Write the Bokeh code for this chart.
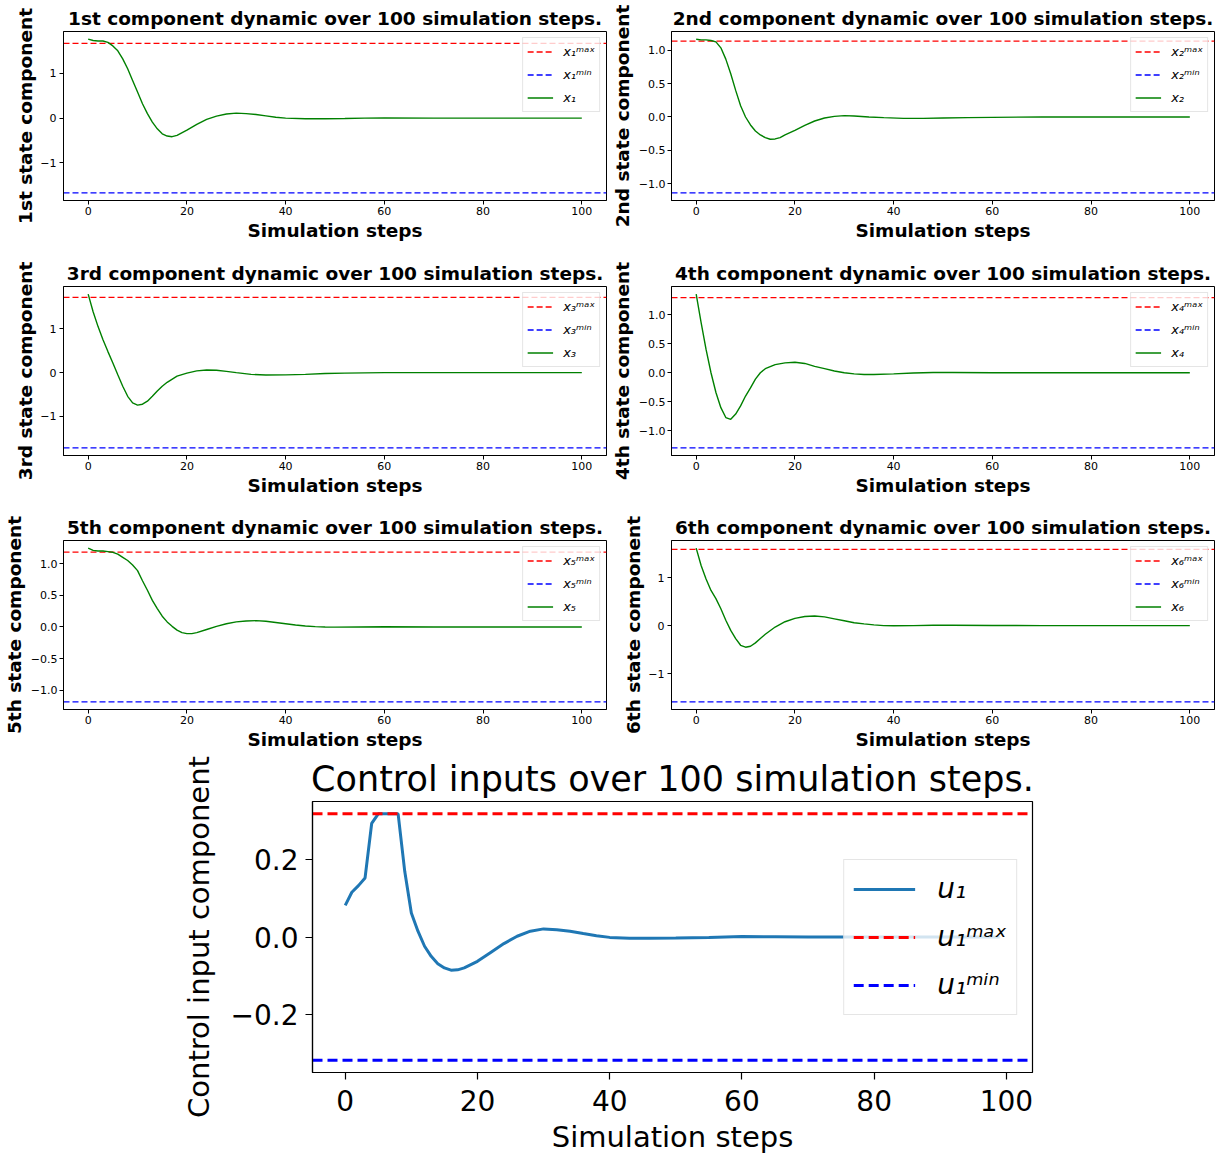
from bokeh.plotting import figure
from bokeh.layouts import column, row
from bokeh.models import Range1d, FixedTicker, Legend, LegendItem
from bokeh.embed import file_html
from bokeh.resources import INLINE

FONT = "DejaVu Sans"

# ---------------- data ----------------
x1_steps = [0, 1, 2, 3, 4, 5, 6, 7, 8, 9, 10, 11, 12, 13, 14, 15, 16, 17, 18,
            20, 22, 24, 26, 28, 30, 32, 34, 36, 38, 40, 44, 48, 52, 56, 60, 70, 80, 90, 100]
x1_vals = [1.76, 1.73, 1.72, 1.72, 1.69, 1.61, 1.50, 1.32, 1.10, 0.84, 0.58, 0.32, 0.10, -0.09,
           -0.24, -0.35, -0.40, -0.415, -0.385,
           -0.27, -0.14, -0.03, 0.045, 0.09, 0.11, 0.10, 0.08, 0.05, 0.02, 0.0,
           -0.015, -0.015, -0.01, 0.0, 0.005, 0.0, 0.0, 0.0, 0.0]

x2_steps = [0, 1, 2, 3, 4, 5, 6, 7, 8, 9, 10, 11, 12, 13, 14, 15, 16, 17, 18,
            20, 22, 24, 26, 28, 30, 32, 35, 38, 42, 46, 50, 55, 60, 70, 80, 90, 100]
x2_vals = [1.17, 1.16, 1.16, 1.15, 1.13, 1.04, 0.87, 0.65, 0.40, 0.17, 0.0, -0.12, -0.21, -0.27,
           -0.31, -0.335, -0.33, -0.31, -0.27,
           -0.20, -0.125, -0.06, -0.015, 0.01, 0.02, 0.015,
           0.0, -0.01, -0.02, -0.02, -0.015, -0.01, -0.005, 0.0, 0.0, 0.0, 0.0]

x3_steps = [0, 1, 2, 3, 4, 5, 6, 7, 8, 9, 10, 11, 12, 13, 14, 15, 16,
            18, 20, 22, 24, 26, 28, 30, 33, 36, 40, 44, 48, 52, 60, 70, 80, 90, 100]
x3_vals = [1.79, 1.39, 1.05, 0.75, 0.48, 0.22, -0.05, -0.31, -0.54, -0.69, -0.74, -0.72, -0.65,
           -0.54, -0.42, -0.31, -0.22,
           -0.08, -0.01, 0.04, 0.06, 0.055, 0.03, 0.0,
           -0.04, -0.055, -0.05, -0.04, -0.02, -0.01, 0.0, 0.0, 0.0, 0.0, 0.0]

x4_steps = [0, 1, 2, 3, 4, 5, 6, 7, 8, 9, 10, 11, 12, 13, 14,
            16, 18, 20, 22, 24, 26, 28, 30, 32, 34, 36, 40, 44, 48, 52, 60, 70, 80, 90, 100]
x4_vals = [1.35, 0.86, 0.40, 0.0, -0.34, -0.60, -0.77, -0.80, -0.71, -0.57, -0.40, -0.26, -0.11,
           0.0, 0.07,
           0.14, 0.17, 0.18, 0.16, 0.11, 0.07, 0.03, 0.0, -0.02, -0.03, -0.03,
           -0.02, -0.005, 0.005, 0.005, 0.0, 0.0, 0.0, 0.0, 0.0]

x5_steps = [0, 1, 2, 3, 4, 5, 6, 7, 8, 9, 10, 11, 12, 13, 14, 15, 16, 17, 18, 19, 20, 21, 22,
            24, 26, 28, 30, 32, 34, 36, 38, 40, 42, 44, 46, 48, 50, 60, 70, 80, 90, 100]
x5_vals = [1.245, 1.21, 1.20, 1.20, 1.19, 1.18, 1.15, 1.10, 1.05, 0.98, 0.89, 0.73, 0.58, 0.42,
           0.29, 0.17, 0.08, 0.01, -0.05, -0.09, -0.105, -0.105, -0.09,
           -0.04, 0.01, 0.05, 0.08, 0.095, 0.10, 0.09, 0.07, 0.05, 0.03, 0.015, 0.005, 0.0, -0.002,
           0.003, 0.0, 0.0, 0.0, 0.0]

x6_steps = [0, 1, 2, 3, 4, 5, 6, 7, 8, 9, 10, 11, 12, 13, 14,
            16, 18, 20, 22, 24, 26, 28, 30, 32, 34, 36, 38, 40, 44, 48, 52, 60, 70, 80, 90, 100]
x6_vals = [1.61, 1.25, 0.97, 0.73, 0.56, 0.35, 0.11, -0.10, -0.27, -0.41, -0.45, -0.43, -0.36,
           -0.27, -0.18,
           -0.03, 0.08, 0.15, 0.19, 0.20, 0.18, 0.14, 0.10, 0.06, 0.035, 0.015, 0.0, -0.005,
           0.0, 0.007, 0.007, 0.003, 0.0, 0.0, 0.0, 0.0]

x_max = [1.667, 1.14, 1.715, 1.29, 1.183, 1.586]
x_min = [-1.667, -1.14, -1.715, -1.29, -1.183, -1.586]

u_steps = [0, 1, 2, 3, 4, 5, 6, 7, 8, 9, 10, 11, 12, 13, 14, 15, 16, 17, 18,
           20, 22, 24, 26, 28, 30, 32, 34, 36, 38, 40, 43, 46, 50, 55, 60, 65, 70, 80, 90, 99]
u_vals = [0.082, 0.116, 0.133, 0.153, 0.294, 0.319, 0.319, 0.319, 0.319, 0.17, 0.062, 0.015,
          -0.024, -0.05, -0.069, -0.08, -0.086, -0.085, -0.08,
          -0.063, -0.04, -0.017, 0.002, 0.015, 0.021, 0.019, 0.015, 0.009, 0.0035, -0.001,
          -0.0035, -0.0035, -0.0026, -0.001, 0.001, 0.0005, 0.0, 0.0, 0.0, 0.0]
u_max = 0.319
u_min = -0.319

ordinals = ["1st", "2nd", "3rd", "4th", "5th", "6th"]
x_ticks = [0, 20, 40, 60, 80, 100]
y_ticks_int = [-1, 0, 1]
y_ticks_half = [-1.0, -0.5, 0.0, 0.5, 1.0]
panel_yticks = [y_ticks_int, y_ticks_half, y_ticks_int, y_ticks_half, y_ticks_half, y_ticks_int]
panel_ydec = [0, 1, 0, 1, 1, 0]
u_ticks = [-0.2, 0.0, 0.2]
sub = ["\u2081", "\u2082", "\u2083", "\u2084", "\u2085", "\u2086"]
SUP_MAX = "\u1d50\u1d43\u02e3"
SUP_MIN = "\u1d50\u2071\u207f"

series = [(x1_steps, x1_vals), (x2_steps, x2_vals), (x3_steps, x3_vals),
          (x4_steps, x4_vals), (x5_steps, x5_vals), (x6_steps, x6_vals)]


def fmt(v, dec):
    s = f"{v:.{dec}f}" if dec else f"{int(round(v))}"
    if s.startswith("-0") and float(s) == 0:
        s = s[1:]
    return s.replace("-", "\u2212")


def style_axes(p, tick_size, label_size, bold, tick_out, lw):
    for ax in (p.xaxis[0], p.yaxis[0]):
        ax.major_label_text_font = FONT
        ax.major_label_text_font_size = tick_size
        ax.major_label_text_color = "black"
        ax.axis_label_text_font = FONT
        ax.axis_label_text_font_size = label_size
        ax.axis_label_text_font_style = "bold" if bold else "normal"
        ax.axis_label_text_color = "black"
        ax.minor_tick_line_color = None
        ax.major_tick_in = 0
        ax.major_tick_out = tick_out
        ax.major_tick_line_color = "black"
        ax.major_tick_line_width = lw
        ax.axis_line_color = "black"
        ax.axis_line_width = lw
    p.xgrid.grid_line_color = None
    p.ygrid.grid_line_color = None
    p.outline_line_color = "black"
    p.outline_line_alpha = 1.0
    p.outline_line_width = lw


row_heights = [255, 254, 244]
figs = []
for i, (st, vals) in enumerate(series):
    r_i = i // 2
    c_i = i % 2
    width = 608 if c_i == 0 else 607
    right = 2 if c_i == 0 else 1
    h = row_heights[r_i]
    lo = min(min(vals), x_min[i])
    hi = max(max(vals), x_max[i])
    pad = 0.05 * (hi - lo)
    xpad = 0.05 * (max(st) - min(st))
    xlo, xhi = min(st) - xpad, max(st) + xpad
    p = figure(width=width, height=h,
               x_range=Range1d(xlo, xhi),
               y_range=Range1d(lo - pad, hi + pad),
               output_backend="svg", toolbar_location=None,
               min_border_left=63, min_border_right=right,
               min_border_top=31, min_border_bottom=h - 31 - 169)
    p.title.text = f"{ordinals[i]} component dynamic over 100 simulation steps."
    p.title.align = "center"
    p.title.text_font = FONT
    p.title.text_font_size = "18.5px"
    p.title.text_font_style = "bold"
    p.title.text_color = "black"
    p.title.standoff = 6
    p.xaxis.axis_label = "Simulation steps"
    p.yaxis.axis_label = f"{ordinals[i]} state component"
    style_axes(p, "11px", "18.5px", True, 4, 1)
    p.xaxis.ticker = FixedTicker(ticks=x_ticks)
    p.xaxis.major_label_overrides = {t: fmt(t, 0) for t in x_ticks}
    p.xaxis.major_label_standoff = 2
    p.xaxis.axis_label_standoff = 2
    yt = panel_yticks[i]
    p.yaxis.ticker = FixedTicker(ticks=yt)
    p.yaxis.major_label_overrides = {t: fmt(t, panel_ydec[i]) for t in yt}
    p.yaxis.major_label_standoff = 2 if panel_ydec[i] else 3
    p.yaxis.axis_label_standoff = 3 if panel_ydec[i] else 1

    # limit lines spanning the whole axis range (like axhline), then the state curve
    r_max = p.line(x=[xlo, xhi], y=[x_max[i], x_max[i]], line_color="red",
                   line_dash="6 3", line_width=1.3)
    r_min = p.line(x=[xlo, xhi], y=[x_min[i], x_min[i]], line_color="blue",
                   line_dash="6 3", line_width=1.3)
    r_x = p.line(x=st, y=vals, line_color="green", line_width=1.4)

    leg = Legend(items=[LegendItem(label="x" + sub[i] + SUP_MAX, renderers=[r_max]),
                        LegendItem(label="x" + sub[i] + SUP_MIN, renderers=[r_min]),
                        LegendItem(label="x" + sub[i], renderers=[r_x])],
                 location="top_right")
    leg.label_text_font = FONT
    leg.label_text_font_size = "13px"
    leg.label_text_font_style = "italic"
    leg.label_text_color = "black"
    leg.glyph_width = 26
    leg.glyph_height = 19
    leg.label_height = 19
    leg.spacing = 4
    leg.padding = 4
    leg.margin = 6
    leg.label_standoff = 10
    leg.border_line_color = "#cccccc"
    leg.border_line_width = 1
    leg.background_fill_alpha = 0.8
    p.add_layout(leg)
    figs.append(p)

# ---------------- bottom control-input plot ----------------
lo = min(min(u_vals), u_min)
hi = max(max(u_vals), u_max)
pad = 0.05 * (hi - lo)
xpad = 0.05 * (max(u_steps) - min(u_steps))
uxlo, uxhi = min(u_steps) - xpad, max(u_steps) + xpad
pu = figure(width=1215, height=404,
            x_range=Range1d(uxlo, uxhi),
            y_range=Range1d(lo - pad, hi + pad),
            output_backend="svg", toolbar_location=None,
            min_border_left=312, min_border_right=183,
            min_border_top=48, min_border_bottom=85)
pu.title.text = "Control inputs over 100 simulation steps."
pu.title.align = "center"
pu.title.text_font = FONT
pu.title.text_font_size = "35px"
pu.title.text_font_style = "normal"
pu.title.text_color = "black"
pu.title.standoff = 6
pu.xaxis.axis_label = "Simulation steps"
pu.yaxis.axis_label = "Control input component"
style_axes(pu, "28px", "29px", False, 7, 1.2)
pu.xaxis.ticker = FixedTicker(ticks=x_ticks)
pu.xaxis.major_label_overrides = {t: fmt(t, 0) for t in x_ticks}
pu.xaxis.major_label_standoff = 10
pu.xaxis.axis_label_standoff = 6
pu.yaxis.ticker = FixedTicker(ticks=u_ticks)
pu.yaxis.major_label_standoff = 7
pu.yaxis.major_label_overrides = {t: fmt(t, 1) for t in u_ticks}
pu.yaxis.axis_label_standoff = 12

r_u = pu.line(x=u_steps, y=u_vals, line_color="#1f77b4", line_width=3)
ru_max = pu.line(x=[uxlo, uxhi], y=[u_max, u_max], line_color="red",
                 line_dash="10 5", line_width=3)
ru_min = pu.line(x=[uxlo, uxhi], y=[u_min, u_min], line_color="blue",
                 line_dash="10 5", line_width=3)
legu = Legend(items=[LegendItem(label="u\u2081", renderers=[r_u]),
                     LegendItem(label="u\u2081" + SUP_MAX, renderers=[ru_max]),
                     LegendItem(label="u\u2081" + SUP_MIN, renderers=[ru_min])],
              location="right")
legu.label_text_font = FONT
legu.label_text_font_size = "28px"
legu.label_text_font_style = "italic"
legu.label_text_color = "black"
legu.glyph_width = 62
legu.glyph_height = 40
legu.label_height = 40
legu.spacing = 8
legu.padding = 9
legu.margin = 15
legu.label_standoff = 22
legu.border_line_color = "#cccccc"
legu.border_line_width = 1.5
legu.background_fill_alpha = 0.8
pu.add_layout(legu)

layout = column(row(figs[0], figs[1]), row(figs[2], figs[3]), row(figs[4], figs[5]), pu,
                spacing=0)

open("out.html", "w").write(file_html(layout, INLINE))
